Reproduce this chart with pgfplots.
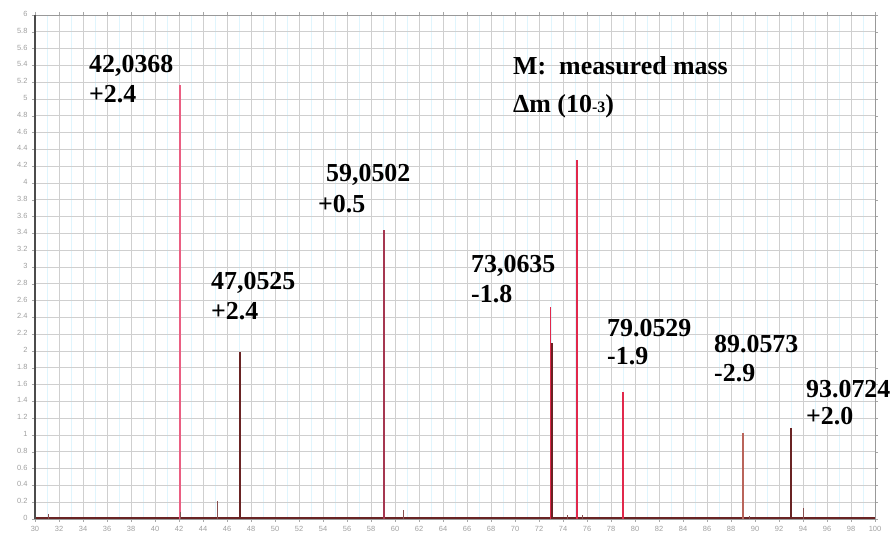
\documentclass[border=0pt]{standalone}
\usepackage{pgfplots}
\pgfplotsset{compat=1.18}
\usepackage{fontspec}
\setmainfont{Liberation Serif}
\newfontfamily\tickfont{Liberation Sans}
\definecolor{mypink}{RGB}{235,95,130}
\definecolor{peakred}{RGB}{225,40,75}
\definecolor{darkbrown}{RGB}{105,35,35}
\definecolor{midbrown}{RGB}{165,55,80}
\definecolor{lightbrown}{RGB}{185,100,90}
\begin{document}
\begin{tikzpicture}[x=1bp,y=1bp]
\begin{axis}[
  at={(0,0)}, anchor=south west,
  scale only axis, width=840bp, height=504bp,
  xmin=30, xmax=100, ymin=0, ymax=6,
  xtick={30,32,...,100}, ytick={0,0.2,...,6.01},
  minor x tick num=1,
  grid=both,
  major grid style={gray!38, line width=0.7bp},
  minor grid style={cyan!12, line width=0.5bp},
  axis line style={gray!80, line width=0.9bp},
  tick style={gray!70, line width=0.5bp},
  major tick length=3bp, minor tick length=0bp,
  tick align=outside,
  ticklabel style={font=\tickfont\fontsize{7.5}{8}\selectfont, text=gray!75},
  typeset ticklabels with strut,
  /pgf/number format/assume math mode=true,
  yticklabel style={/pgf/number format/fixed, /pgf/number format/precision=1, xshift=-1bp},
  clip=false,
]
% baseline of the spectrum
\addplot[darkbrown, line width=1.8bp] coordinates {(30,0.01) (100,0.01)};
% main peaks
\addplot[ycomb, draw=mypink, line width=1.8bp, mark=none] coordinates {(42.08,5.17)};
\addplot[ycomb, draw=darkbrown, line width=2bp, mark=none] coordinates {(47.05,1.99)};
\addplot[ycomb, draw=midbrown, line width=1.5bp, mark=none] coordinates {(59.10,3.44)};
\addplot[ycomb, draw=peakred, line width=1.4bp, mark=none] coordinates {(72.96,2.52)};
\addplot[ycomb, draw=darkbrown, line width=1.6bp, mark=none] coordinates {(73.06,2.10)};
\addplot[ycomb, draw=peakred, line width=1.6bp, mark=none] coordinates {(75.17,4.27)};
\addplot[ycomb, draw=peakred, line width=2.2bp, mark=none] coordinates {(79.0,1.51)};
\addplot[ycomb, draw=lightbrown, line width=1.5bp, mark=none] coordinates {(89.0,1.02)};
\addplot[ycomb, draw=darkbrown, line width=1.7bp, mark=none] coordinates {(93.0,1.08)};
% small peaks
\addplot[ycomb, draw=darkbrown!80, line width=0.9bp, mark=none] coordinates {
 (31.1,0.06) (42.1,0.08) (45.17,0.21) (60.67,0.11) (74.4,0.05) (75.6,0.05) (94.0,0.13) (89.5,0.04)};
\end{axis}
\draw[gray!60!black, line width=1.6bp] (0,0) -- (0,504);
\begin{scope}[every node/.style={anchor=base west, inner sep=0pt, font=\bfseries\fontsize{26}{30}\selectfont}]
\node at (54,446) {42,0368};
\node at (54,416) {+2.4};
\node at (291,337) {59,0502};
\node at (283,306) {+0.5};
\node at (176,229) {47,0525};
\node at (176,199) {+2.4};
\node at (436,246) {73,0635};
\node at (436,216) {-1.8};
\node at (572,182) {79.0529};
\node at (572,154) {-1.9};
\node at (679,166) {89.0573};
\node at (679,137) {-2.9};
\node at (771,121) {93.0724};
\node at (771,94) {+2.0};
\node at (478,444) {M:\ \ measured mass};
\node at (478,406) {Δm (10{\fontsize{16}{16}\selectfont -3})};
\end{scope}
\pgfresetboundingbox
\path (-35,-18) rectangle (858,519);
\end{tikzpicture}
\end{document}
